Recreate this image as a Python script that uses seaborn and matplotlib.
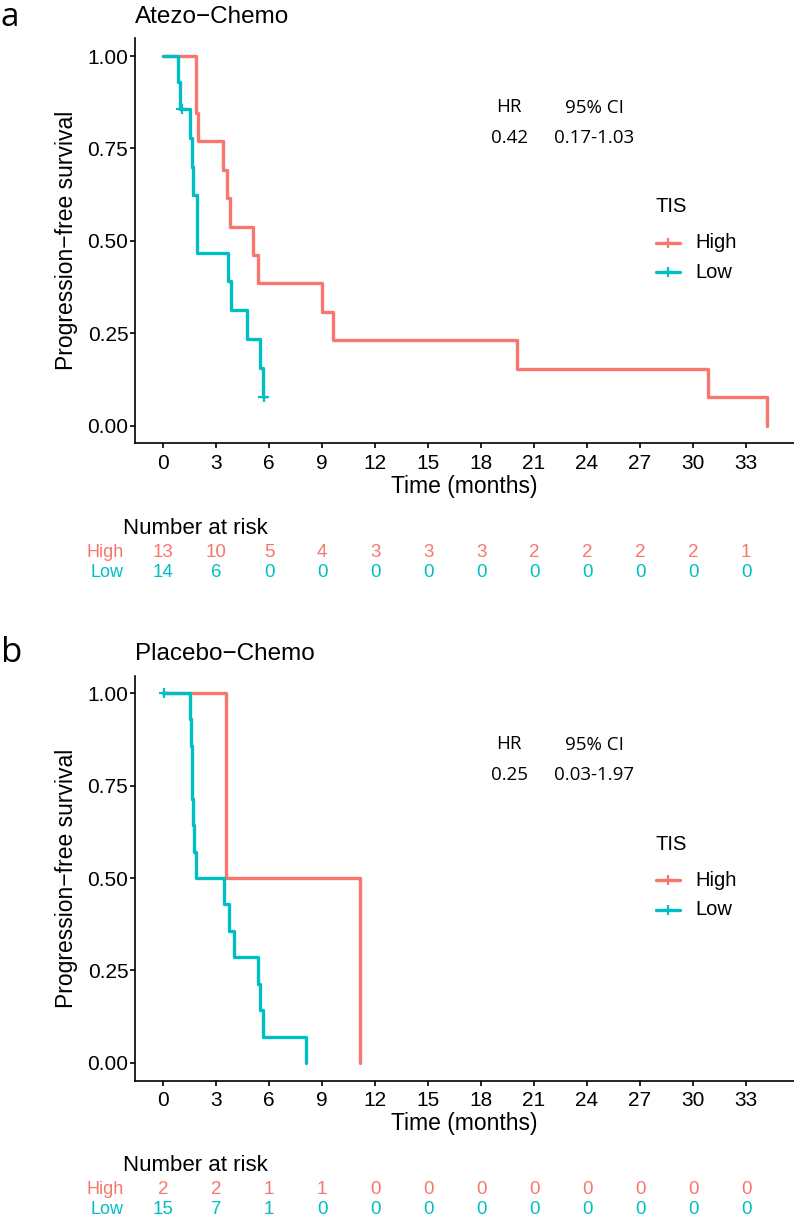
import numpy as np
import pandas as pd
import matplotlib
matplotlib.use("Agg")
import matplotlib.pyplot as plt
import matplotlib.transforms as mtransforms
from matplotlib.lines import Line2D
import seaborn as sns

# ---------------- data ----------------
tick_months = [0, 3, 6, 9, 12, 15, 18, 21, 24, 27, 30, 33]
y_ticks = [0.0, 0.25, 0.5, 0.75, 1.0]
groups = ["High", "Low"]

# Panel a: Atezo-Chemo (step curves: time, survival after step)
a_high_time = [0, 1.85, 2.00, 3.42, 3.61, 3.80, 5.08, 5.40, 9.00, 9.60, 20.05, 30.86, 34.2]
a_high_surv = [1.0, 0.846, 0.769, 0.692, 0.615, 0.538, 0.462, 0.385, 0.308, 0.231, 0.154, 0.077, 0.0]
a_low_time = [0, 0.87, 0.96, 1.53, 1.63, 1.72, 1.91, 3.70, 3.85, 4.74, 5.46, 5.65, 5.69]
a_low_surv = [1.0, 0.929, 0.857, 0.779, 0.701, 0.623, 0.467, 0.390, 0.312, 0.234, 0.156, 0.078, 0.078]
a_low_cens_time = [1.06, 5.69]
a_low_cens_surv = [0.857, 0.078]

# Panel b: Placebo-Chemo
b_high_time = [0, 3.57, 11.15]
b_high_surv = [1.0, 0.5, 0.0]
b_low_time = [0, 1.53, 1.58, 1.62, 1.65, 1.72, 1.77, 1.85, 3.46, 3.74, 3.99, 5.37, 5.50, 5.63, 8.10]
b_low_surv = [1.0, 0.929, 0.857, 0.786, 0.714, 0.643, 0.571, 0.5, 0.429, 0.357, 0.286, 0.214, 0.143, 0.071, 0.0]
b_low_cens_time = [0.05]
b_low_cens_surv = [1.0]

# Numbers at risk
risk_a_high = [13, 10, 5, 4, 3, 3, 3, 2, 2, 2, 2, 1]
risk_a_low = [14, 6, 0, 0, 0, 0, 0, 0, 0, 0, 0, 0]
risk_b_high = [2, 2, 1, 1, 0, 0, 0, 0, 0, 0, 0, 0]
risk_b_low = [15, 7, 1, 0, 0, 0, 0, 0, 0, 0, 0, 0]

hr_a = ("0.42", "0.17-1.03")
hr_b = ("0.25", "0.03-1.97")

# ---------------- style ----------------
RED = "#F8766D"
TEAL = "#00BFC4"
pal = {"High": RED, "Low": TEAL}

sns.set_theme(style="ticks")
plt.rcParams["font.family"] = ["Liberation Sans", "DejaVu Sans"]
plt.rcParams["axes.linewidth"] = 1.2
plt.rcParams["text.color"] = "black"
plt.rcParams["axes.labelcolor"] = "black"
plt.rcParams["xtick.color"] = "black"
plt.rcParams["ytick.color"] = "black"

W, H = 794, 1218
fig = plt.figure(figsize=(W / 100, H / 100), dpi=100)
PX = mtransforms.Affine2D().scale(1 / W, -1 / H).translate(0, 1) + fig.transFigure

X_LEFT, X_RIGHT = -1.587, 35.77
Y_LO, Y_HI = -0.048, 1.048


def panel(top_px, letter, letter_size, letter_base, title, high_t, high_s, low_t, low_s,
          cens_t, cens_s, risk_high, risk_low, hr):
    ax_left, ax_right = 135, 795
    ax_h = 405.0
    bottom_px = top_px + ax_h
    ax = fig.add_axes([ax_left / W, 1 - bottom_px / H, (ax_right - ax_left) / W, ax_h / H])

    df = pd.concat([
        pd.DataFrame({"time": high_t, "surv": high_s, "group": "High"}),
        pd.DataFrame({"time": low_t, "surv": low_s, "group": "Low"}),
    ], ignore_index=True)
    sns.lineplot(data=df, x="time", y="surv", hue="group", hue_order=groups,
                 palette=pal, drawstyle="steps-post", estimator=None, sort=False,
                 linewidth=2.4, legend=False, ax=ax)
    cdf = pd.DataFrame({"time": cens_t, "surv": cens_s, "group": "Low"})
    sns.scatterplot(data=cdf, x="time", y="surv", hue="group", palette=pal,
                    marker="+", s=60, linewidth=1.6, legend=False, ax=ax, zorder=5)

    ax.set_xlim(X_LEFT, X_RIGHT)
    ax.set_ylim(Y_LO, Y_HI)
    ax.set_xticks(tick_months)
    ax.set_xticklabels([str(t) for t in tick_months])
    ax.set_yticks(y_ticks)
    ax.set_yticklabels([f"{v:.2f}" for v in y_ticks])
    for s in ["top", "right"]:
        ax.spines[s].set_visible(False)
    for s in ["left", "bottom"]:
        ax.spines[s].set_color("black")
        ax.spines[s].set_linewidth(1.2)
    ax.tick_params(axis="x", length=3.3, width=1.2, color="black", pad=4.5,
                   labelsize=15, labelcolor="black")
    ax.tick_params(axis="y", length=3.3, width=1.2, color="black", pad=1.5,
                   labelsize=15, labelcolor="black")

    ax.set_xlabel("Time (months)", fontsize=16.5, va="center", color="black")
    ax.xaxis.set_label_coords((464.5 - ax_left) / (ax_right - ax_left), (bottom_px - (top_px + 448)) / ax_h)
    ax.set_ylabel("Progression\u2212free survival", fontsize=16.5, va="center", color="black")
    ax.yaxis.set_label_coords((66 - ax_left) / (ax_right - ax_left), 0.5)

    # title and panel letter
    fig.text(135, top_px - 15, title, transform=PX, fontsize=17.5, ha="left",
             va="baseline", color="black")
    fig.text(1, letter_base, letter, transform=PX, fontsize=letter_size, ha="left",
             va="baseline", family=["Open Sans", "DejaVu Sans"], color="black")

    # HR annotation
    hrf = ["Open Sans", "DejaVu Sans"]
    fig.text(509, top_px + 68.5, "HR", transform=PX, fontsize=13.5, ha="center", va="center", family=hrf)
    fig.text(594, top_px + 69.5, "95% CI", transform=PX, fontsize=13.5, ha="center", va="center", family=hrf)
    fig.text(509, top_px + 100, hr[0], transform=PX, fontsize=13.5, ha="center", va="center", family=hrf)
    fig.text(594, top_px + 100, hr[1], transform=PX, fontsize=13.5, ha="center", va="center", family=hrf)

    # legend (TIS)
    fig.text(655, top_px + 168.5, "TIS", transform=PX, fontsize=14.5, ha="left", va="center")
    for lab, dy in [("High", 204.5), ("Low", 234)]:
        yk = top_px + dy
        fig.add_artist(Line2D([656, 680], [yk, yk], transform=PX, color=pal[lab], linewidth=2.4))
        fig.add_artist(Line2D([668], [yk], transform=PX, color=pal[lab], marker="+",
                              markersize=7.5, markeredgewidth=1.6, linestyle="none"))
        fig.text(695, yk, lab, transform=PX, fontsize=14.5, ha="left", va="center")

    # risk table
    rt = mtransforms.blended_transform_factory(ax.transData, PX)
    fig.text(123, top_px + 490, "Number at risk", transform=PX, fontsize=16, ha="left", va="center")
    for lab, vals, dy in [("High", risk_high, 514.5), ("Low", risk_low, 534.5)]:
        yk = top_px + dy
        fig.text(124, yk, lab, transform=PX, fontsize=13, ha="right", va="center", color=pal[lab])
        for t, v in zip(tick_months, vals):
            ax.text(t, yk, str(v), transform=rt, fontsize=13.5, ha="center", va="center",
                    color=pal[lab], clip_on=False)
    return ax


panel(38.3, "a", 24, 25.5, "Atezo\u2212Chemo", a_high_time, a_high_surv, a_low_time, a_low_surv,
      a_low_cens_time, a_low_cens_surv, risk_a_high, risk_a_low, hr_a)
panel(675.5, "b", 25, 661.5, "Placebo\u2212Chemo", b_high_time, b_high_surv, b_low_time, b_low_surv,
      b_low_cens_time, b_low_cens_surv, risk_b_high, risk_b_low, hr_b)

fig.savefig("out.png", dpi=100)
